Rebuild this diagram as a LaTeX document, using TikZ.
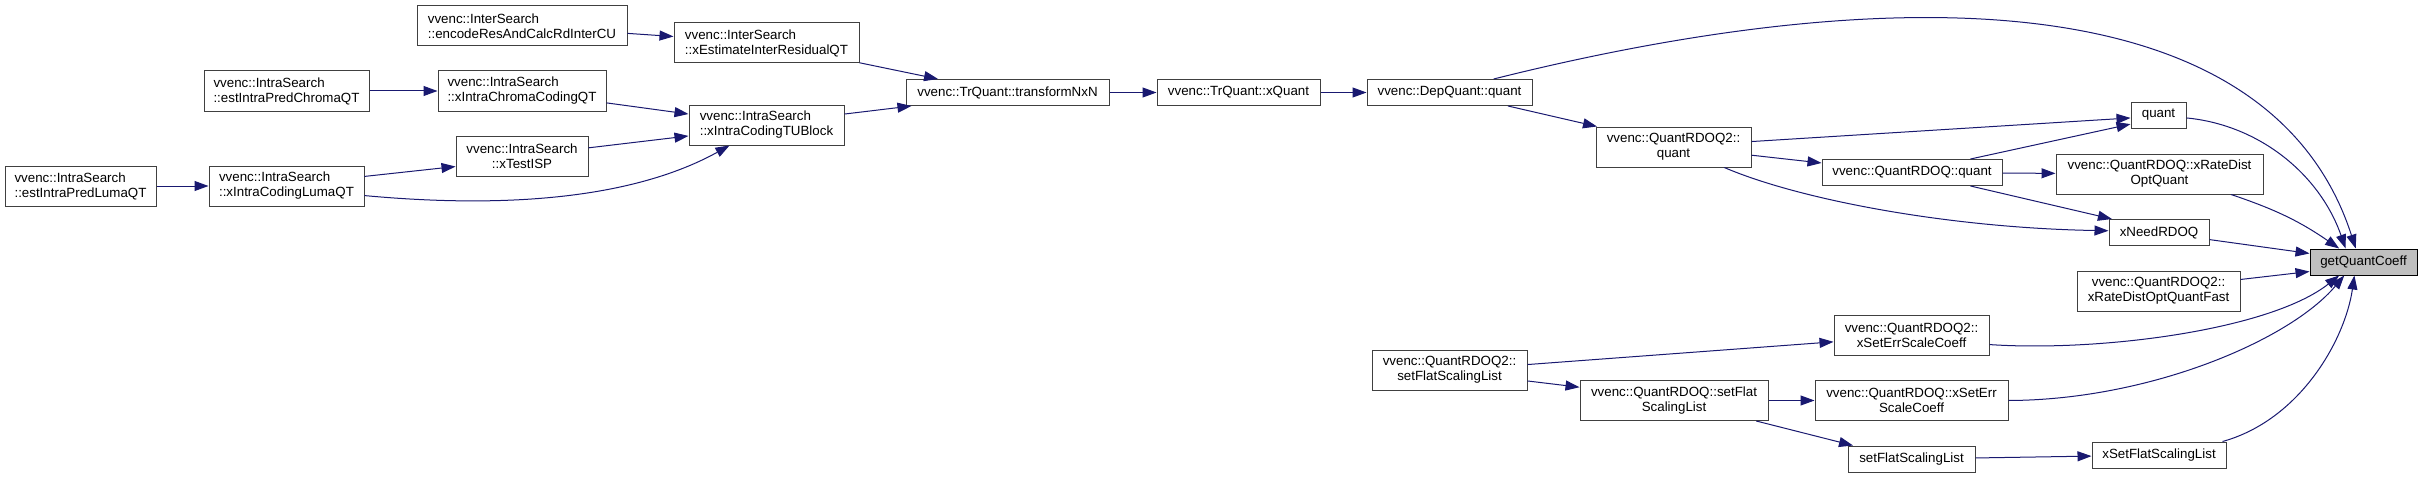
\documentclass[tikz,border=0pt]{standalone}
\usepackage{fontspec}
\setmainfont{Liberation Sans}
\usetikzlibrary{arrows.meta}
\definecolor{edgeblue}{HTML}{191970}
\definecolor{boxgray}{HTML}{404040}
\definecolor{rootgray}{HTML}{BFBFBF}

\begin{document}
\begin{tikzpicture}[x=0.75pt, y=-0.75pt,
    fn/.style={draw=boxgray, line width=0.75pt, fill=white, inner sep=0pt,
        font=\fontsize{10}{11.25}\selectfont},
    root/.style={fn, draw=black, fill=rootgray},
    wh/.style 2 args={minimum width=#1*0.75pt, minimum height=#2*0.75pt},
    call/.style={draw=edgeblue, line width=0.75pt, -{Triangle[length=10.5pt,width=7.5pt]}}]
    \useasboundingbox[fill=white] (0,0) rectangle (2423,478);

    % Intra / inter search callers
    \node[fn, wh={151}{40}, align=left] (lumaEst) at (80.5,186) {vvenc::IntraSearch\\::estIntraPredLumaQT};
    \node[fn, wh={155}{40}, align=left] (lumaCod) at (286.5,186) {vvenc::IntraSearch\\::xIntraCodingLumaQT};
    \node[fn, wh={165}{40}, align=left] (chromaEst) at (286.5,91) {vvenc::IntraSearch\\::estIntraPredChromaQT};
    \node[fn, wh={168}{40}, align=left] (chromaCod) at (522,91) {vvenc::IntraSearch\\::xIntraChromaCodingQT};
    \node[fn, wh={132}{40}, align=center] (testISP) at (522,156) {vvenc::IntraSearch\\::xTestISP};
    \node[fn, wh={210}{40}, align=left] (encRes) at (522,26) {vvenc::InterSearch\\::encodeResAndCalcRdInterCU};
    \node[fn, wh={185}{40}, align=left] (estInter) at (766.5,43) {vvenc::InterSearch\\::xEstimateInterResidualQT};
    \node[fn, wh={155}{40}, align=left] (tuBlock) at (766.5,125) {vvenc::IntraSearch\\::xIntraCodingTUBlock};

    % Transform and quantizer chain
    \node[fn, wh={203}{26}] (trNxN) at (1007.5,92.5) {vvenc::TrQuant::transformNxN};
    \node[fn, wh={163}{26}] (trQuant) at (1238.5,92.5) {vvenc::TrQuant::xQuant};
    \node[fn, wh={165}{26}] (depQuant) at (1449.5,92.5) {vvenc::DepQuant::quant};
    \node[fn, wh={155}{40}, align=center] (rdoq2Quant) at (1673.5,147) {vvenc::QuantRDOQ2::\\quant};
    \node[fn, wh={180}{26}] (rdoqQuant) at (1912,172.5) {vvenc::QuantRDOQ::quant};
    \node[fn, wh={55}{26}] (quant) at (2158.5,115) {quant};
    \node[fn, wh={207}{40}, align=center] (rateDist) at (2159.5,174) {vvenc::QuantRDOQ::xRateDist\\OptQuant};
    \node[fn, wh={100}{26}] (needRDOQ) at (2159,232.5) {xNeedRDOQ};
    \node[fn, wh={163}{40}, align=center] (rateDistFast) at (2158.5,291) {vvenc::QuantRDOQ2::\\xRateDistOptQuantFast};

    % Scaling list setters
    \node[fn, wh={155}{40}, align=center] (rdoq2SetErr) at (1911.5,335) {vvenc::QuantRDOQ2::\\xSetErrScaleCoeff};
    \node[fn, wh={155}{40}, align=center] (rdoq2SetFlat) at (1449.5,370) {vvenc::QuantRDOQ2::\\setFlatScalingList};
    \node[fn, wh={188}{40}, align=center] (rdoqSetFlat) at (1674,400.5) {vvenc::QuantRDOQ::setFlat\\ScalingList};
    \node[fn, wh={193}{40}, align=center] (rdoqSetErr) at (1911.5,400.5) {vvenc::QuantRDOQ::xSetErr\\ScaleCoeff};
    \node[fn, wh={127}{26}] (setFlat) at (1911.5,459) {setFlatScalingList};
    \node[fn, wh={134}{26}] (xSetFlat) at (2159,455) {xSetFlatScalingList};

    % The function itself
    \node[root, wh={107}{26}] (gqc) at (2363.5,262) {getQuantCoeff};

    % Intra search calls
    \draw[call] (lumaEst) -- (lumaCod);
    \draw[call] (lumaCod.7) -- (testISP.-171);
    \draw[call] (lumaCod.-7) .. controls (520,210) and (640,195) .. (tuBlock.-151);
    \draw[call] (chromaEst) -- (chromaCod);
    \draw[call] (chromaCod.-8) -- (tuBlock.172);
    \draw[call] (testISP.7) -- (tuBlock.-172);

    % Inter search calls
    \draw[call] (encRes.-4) -- (estInter.176);
    \draw[call] (estInter.-12) -- (trNxN.169);
    \draw[call] (tuBlock.8) -- (trNxN.-172);

    % Transform / quant chain
    \draw[call] (trNxN) -- (trQuant);
    \draw[call] (trQuant) -- (depQuant);
    \draw[call] (depQuant.-13) -- (rdoq2Quant.165);
    \draw[call] (depQuant.17) .. controls (1897,-22) and (2270,-17) .. (gqc.120);

    % QuantRDOQ2::quant and QuantRDOQ::quant
    \draw[call] (rdoq2Quant.4) -- (quant.-174);
    \draw[call] (rdoq2Quant.-6) -- (rdoqQuant.174);
    \draw[call] (rdoq2Quant.-22) .. controls (1800,200) and (1950,228) .. (needRDOQ.178);
    \draw[call] (rdoqQuant.13) -- (quant.-162);
    \draw[call] (rdoqQuant) -- (rateDist);
    \draw[call] (rdoqQuant.-13) -- (needRDOQ.164);

    % Into getQuantCoeff
    \draw[call] (quant.-6) .. controls (2260,125) and (2320,175) .. (gqc.143);
    \draw[call] (rateDist.-16) to[bend left=8] (gqc.151);
    \draw[call] (needRDOQ.-8) -- (gqc.171);
    \draw[call] (rateDistFast.8) -- (gqc.-170);
    \draw[call] (rdoq2SetErr.-7) .. controls (2100,352) and (2270,330) .. (gqc.-151);
    \draw[call] (rdoqSetErr.east) .. controls (2150,400) and (2290,340) .. (gqc.-145);
    \draw[call] (xSetFlat.12) .. controls (2300,420) and (2345,340) .. (gqc.-124);

    % Scaling list calls
    \draw[call] (rdoq2SetFlat.4) -- (rdoq2SetErr.-175);
    \draw[call] (rdoq2SetFlat.-8) -- (rdoqSetFlat.172);
    \draw[call] (rdoqSetFlat) -- (rdoqSetErr);
    \draw[call] (rdoqSetFlat.-14) -- (setFlat.167);
    \draw[call] (setFlat) -- (xSetFlat);
\end{tikzpicture}
\end{document}
